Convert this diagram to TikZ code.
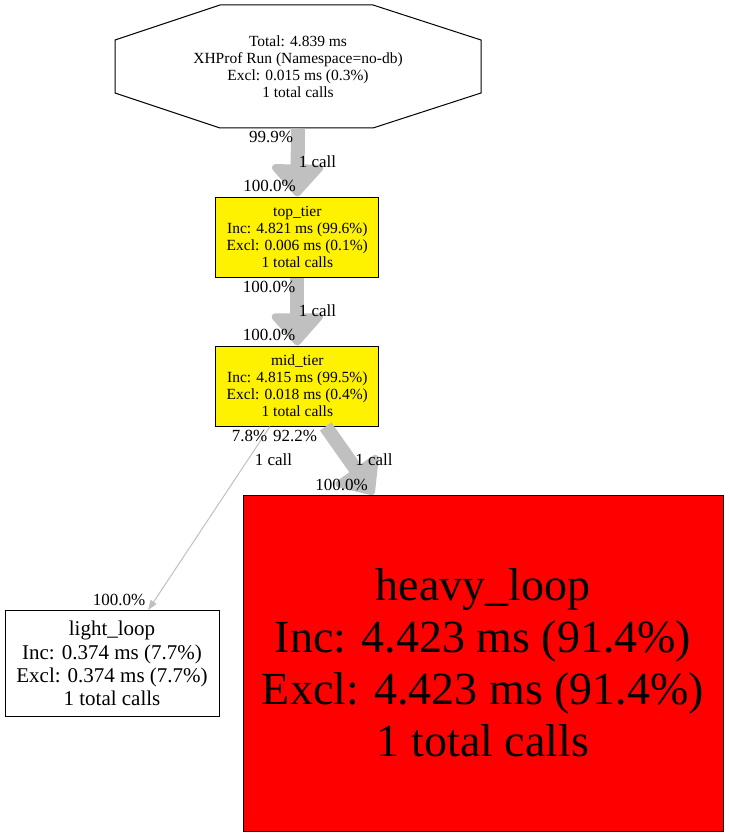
\documentclass[tikz,border=0pt]{standalone}
\usepackage{fontspec}
\setmainfont{Liberation Serif}
\usetikzlibrary{arrows.meta,positioning}
\definecolor{callgray}{HTML}{C0C0C0}
\tikzset{
  fn/.style={draw, line width=1pt, inner sep=0pt, align=center, font=\fontsize{15.5}{17}\selectfont},
  hotfn/.style={fn, fill=yellow},
  elabel/.style={inner sep=0pt, font=\fontsize{17}{20}\selectfont},
  heavycall/.style={draw=callgray, line width=14pt,
    -{Triangle[round, line width=7pt, length=34pt, width=58pt, color=callgray]}},
  lightcall/.style={draw=callgray, line width=1pt,
    -{Triangle[length=10pt, width=7pt, color=callgray]}}
}
\begin{document}
\begin{tikzpicture}[x=1pt, y=-1pt]
  \useasboundingbox (0,0) rectangle (729,837);
  % root of the run
  \draw[line width=1pt] (220,5) -- (373,5) -- (481,40) -- (481,93) -- (373,128) -- (220,128)
    -- (115,93) -- (115,40) -- cycle;
  \node[fn, draw=none, minimum width=366pt, minimum height=123pt] (main) at (298,66.5)
    {Total: 4.839 ms\\XHProf Run (Namespace=no-db)\\Excl: 0.015 ms (0.3\%)\\1 total calls};
  % functions
  \node[hotfn, minimum width=163pt, minimum height=80pt] (toptier) at (297.3,237)
    {top\_tier\\Inc: 4.821 ms (99.6\%)\\Excl: 0.006 ms (0.1\%)\\1 total calls};
  \node[hotfn, minimum width=163pt, minimum height=80pt] (midtier) at (297.3,386)
    {mid\_tier\\Inc: 4.815 ms (99.5\%)\\Excl: 0.018 ms (0.4\%)\\1 total calls};
  \node[fn, minimum width=214pt, minimum height=106pt, font=\fontsize{21}{23.3}\selectfont]
    (lightloop) at (112,663.7)
    {light\_loop\\Inc: 0.374 ms (7.7\%)\\Excl: 0.374 ms (7.7\%)\\1 total calls};
  \node[fn, fill=red, minimum width=480pt, minimum height=336pt, font=\fontsize{46}{52}\selectfont]
    (heavyloop) at (483,663)
    {heavy\_loop\\Inc: 4.423 ms (91.4\%)\\Excl: 4.423 ms (91.4\%)\\1 total calls};
  % calls
  \draw[heavycall] (main.south) -- (toptier.north);
  \draw[heavycall] (toptier.south) -- (midtier.north);
  \draw[heavycall] (midtier.-55) -- (heavyloop.123.5);
  \draw[lightcall] (midtier.236.7) -- (lightloop.56.4);
  % call labels
  \node[elabel] (l1a) at (271,137) {99.9\%};
  \node[elabel] (l1b) at (317.5,162) {1 call};
  \node[elabel] (l1c) at (269.5,186) {100.0\%};
  \node[elabel] (l2a) at (269,287) {100.0\%};
  \node[elabel] (l2b) at (317.5,311) {1 call};
  \node[elabel] (l2c) at (269,335) {100.0\%};
  \node[elabel] (l3a) at (249.5,436) {7.8\%};
  \node[elabel] (l3b) at (273.5,460) {1 call};
  \node[elabel] (l3c) at (119,600) {100.0\%};
  \node[elabel] (l4a) at (295,436) {92.2\%};
  \node[elabel] (l4b) at (374,460) {1 call};
  \node[elabel] (l4c) at (341.5,485) {100.0\%};
\end{tikzpicture}
\end{document}
